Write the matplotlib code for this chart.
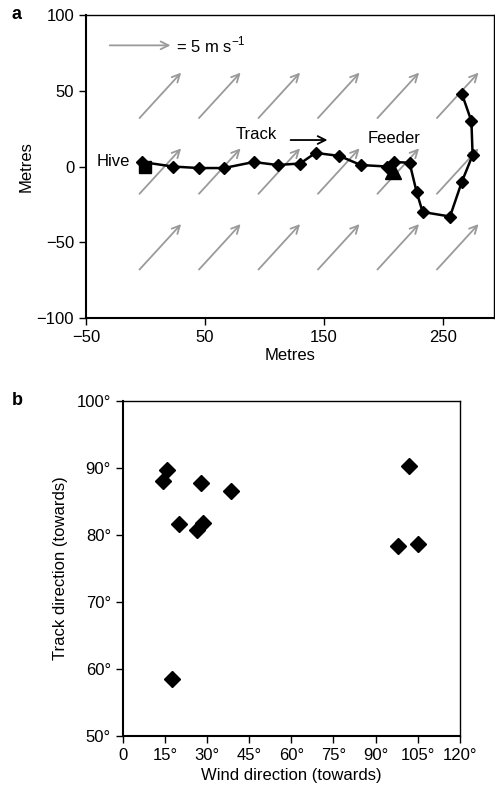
import matplotlib
matplotlib.use("Agg")
import matplotlib.pyplot as plt

plt.rcParams['font.family'] = ['Liberation Sans', 'DejaVu Sans']
plt.rcParams['axes.unicode_minus'] = True

# panel a: bee track from hive to feeder (metres)
track_x = [-3, 23, 45, 66, 91, 111, 130, 143, 163, 181, 203, 209, 222, 228, 233, 256, 266, 275, 274, 266]
track_y = [3, 0, -1, -1, 3, 1, 2, 9, 7, 1, 0, 3, 2.5, -17, -30, -33, -10, 7.5, 30, 48]
hive = (0, 0)
feeder = (208, -3)

# wind vectors (tail positions and components in metres)
wind_x = [-5, 45, 95, 145, 195, 245] * 3
wind_y = [32] * 6 + [-18] * 6 + [-68] * 6
wind_u = 35
wind_v = 30

# panel b: wind direction vs track direction (degrees)
wind_dir = [14.2, 15.6, 20.1, 26.5, 28.5, 27.8, 38.5, 17.4, 98.1, 102.0, 105.0]
track_dir = [88.0, 89.6, 81.6, 80.7, 81.7, 87.7, 86.5, 58.5, 78.4, 90.2, 78.6]

fs = 12
grey = '#9a9a9a'

fig = plt.figure(figsize=(4.95, 7.93), dpi=100)

# ---- panel a ----
ax1 = fig.add_axes([0.1737, 0.599, 0.8243, 0.382])
for x0, y0 in zip(wind_x, wind_y):
    ax1.annotate('', xy=(x0 + wind_u, y0 + wind_v), xytext=(x0, y0),
                 arrowprops=dict(arrowstyle='->', color=grey, lw=1.3,
                                 shrinkA=0, shrinkB=0, mutation_scale=14))
ax1.annotate('', xy=(21, 80), xytext=(-30, 80),
             arrowprops=dict(arrowstyle='->', color=grey, lw=1.3,
                             shrinkA=0, shrinkB=0, mutation_scale=14))
ax1.text(26, 80.5, '= 5 m s$^{\\mathregular{-1}}$', fontsize=fs, va='center')

ax1.plot([hive[0]] + track_x[:11] + [feeder[0]] + track_x[11:],
         [hive[1]] + track_y[:11] + [feeder[1]] + track_y[11:],
         color='black', lw=1.8, zorder=3)
ax1.plot(track_x, track_y, ls='none', marker='D', ms=6, color='black', zorder=4)
ax1.plot(*hive, marker='s', ms=9, color='black', zorder=5)
ax1.plot(*feeder, marker='^', ms=12, color='black', zorder=5)

ax1.text(-13, 3, 'Hive', fontsize=fs, ha='right', va='center')
ax1.text(76, 21, 'Track', fontsize=fs, ha='left', va='center')
ax1.annotate('', xy=(153, 17.5), xytext=(122, 17.5),
             arrowprops=dict(arrowstyle='->', color='black', lw=1.3,
                             shrinkA=0, shrinkB=0, mutation_scale=14))
ax1.text(187, 18.5, 'Feeder', fontsize=fs, ha='left', va='center')

ax1.set_xlim(-50, 293)
ax1.set_ylim(-100, 100)
ax1.set_xticks([-50, 50, 150, 250])
ax1.set_yticks([-100, -50, 0, 50, 100])
ax1.set_xlabel('Metres', fontsize=fs, labelpad=2)
ax1.set_ylabel('Metres', fontsize=fs, labelpad=2)
ax1.tick_params(labelsize=fs, direction='out', length=5, width=1)
for s in ax1.spines.values():
    s.set_linewidth(1)
ax1.spines['left'].set_linewidth(1.5)
ax1.spines['bottom'].set_linewidth(1.5)

# ---- panel b ----
ax2 = fig.add_axes([0.2479, 0.0719, 0.6811, 0.4228])
ax2.plot(wind_dir, track_dir, ls='none', marker='D', ms=8, color='black')
ax2.set_xlim(0, 120)
ax2.set_ylim(50, 100)
ax2.set_xticks(range(0, 121, 15))
ax2.set_xticklabels(['0'] + [f'{v}°' for v in range(15, 121, 15)])
ax2.set_yticks(range(50, 101, 10))
ax2.set_yticklabels([f'{v}°' for v in range(50, 101, 10)])
ax2.set_xlabel('Wind direction (towards)', fontsize=fs, labelpad=4)
ax2.set_ylabel('Track direction (towards)', fontsize=fs, labelpad=6)
ax2.tick_params(labelsize=fs, direction='out', length=5, width=1)
for s in ax2.spines.values():
    s.set_linewidth(1)
ax2.spines['left'].set_linewidth(1.5)
ax2.spines['bottom'].set_linewidth(1.5)

fig.text(0.024, 0.982, 'a', fontsize=13, fontweight='bold', va='center')
fig.text(0.024, 0.495, 'b', fontsize=13, fontweight='bold', va='center')

fig.savefig('out.png', dpi=100)
